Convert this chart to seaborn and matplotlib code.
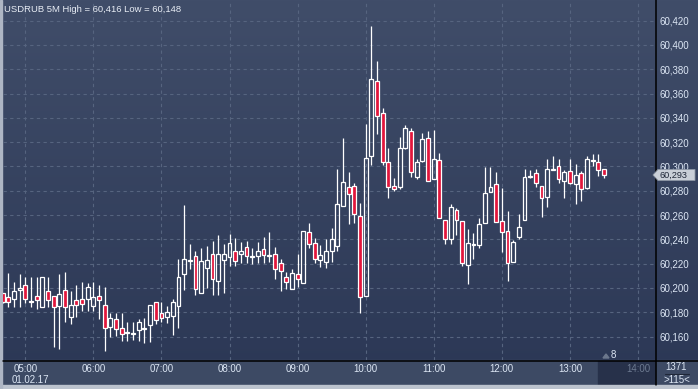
import numpy as np
import pandas as pd
import seaborn as sns
import matplotlib.pyplot as plt
from matplotlib.colors import LinearSegmentedColormap
from matplotlib.patches import Rectangle, Polygon
from matplotlib.lines import Line2D

# USDRUB, 5 minute candles, 01.02.17 04:40 .. 13:30
opens = [
    60.1956, 60.1928, 60.1906, 60.1980, 60.2021, 60.1895, 60.1930, 60.1845, 60.1971, 60.1930,
    60.1851, 60.1980, 60.1757, 60.1897, 60.1906, 60.1906, 60.1853, 60.1930, 60.1856, 60.1675,
    60.1741, 60.1667, 60.1626, 60.1623, 60.1650, 60.1659, 60.1697, 60.1881, 60.1790, 60.1757,
    60.1771, 60.1853, 60.2111, 60.2221, 60.2260, 60.1955, 60.2161, 60.2276, 60.2059, 60.2227,
    60.2251, 60.2301, 60.2279, 60.2339, 60.2251, 60.2265, 60.2317, 60.2260, 60.2276, 60.2202,
    60.2087, 60.1993, 60.2111, 60.2043, 60.2457, 60.2367, 60.2227, 60.2210, 60.2301, 60.2342,
    60.2678, 60.2829, 60.2837, 60.2590, 60.1937, 60.3089, 60.3701, 60.3438, 60.3034, 60.2837,
    60.2829, 60.3152, 60.3289, 60.2916, 60.3048, 60.3235, 60.2894, 60.3051, 60.2557, 60.2406,
    60.2639, 60.2549, 60.2187, 60.2352, 60.2352, 60.2533, 60.2788, 60.2854, 60.2550, 60.2467,
    60.2212, 60.2418, 60.2558, 60.2917, 60.2945, 60.2838, 60.2747, 60.2969, 60.3002, 60.2879,
    60.2961, 60.2854, 60.2945, 60.2821, 60.3043, 60.3035, 60.2978,
]
highs = [
    60.1960, 60.2120, 60.2048, 60.2111, 60.2092, 60.2087, 60.2087, 60.2087, 60.2087, 60.1930,
    60.2111, 60.2131, 60.1971, 60.2021, 60.2048, 60.2037, 60.2048, 60.2021, 60.2004, 60.1796,
    60.1790, 60.1796, 60.1716, 60.1716, 60.1741, 60.1752, 60.1856, 60.1881, 60.1881, 60.1851,
    60.1908, 60.2235, 60.2682, 60.2358, 60.2303, 60.2325, 60.2345, 60.2386, 60.2435, 60.2361,
    60.2443, 60.2408, 60.2380, 60.2388, 60.2331, 60.2380, 60.2416, 60.2457, 60.2339, 60.2235,
    60.2133, 60.2153, 60.2276, 60.2465, 60.2531, 60.2408, 60.2350, 60.2400, 60.2490, 60.2979,
    60.3235, 60.2952, 60.2861, 60.2700, 60.3350, 60.4160, 60.3868, 60.3479, 60.3152, 60.2903,
    60.3246, 60.3342, 60.3314, 60.3059, 60.3276, 60.3292, 60.3300, 60.3108, 60.2557, 60.2694,
    60.2656, 60.2549, 60.2486, 60.2451, 60.2574, 60.2994, 60.2994, 60.2953, 60.2821, 60.2635,
    60.2396, 60.2610, 60.2978, 60.2972, 60.2978, 60.2838, 60.3060, 60.3087, 60.3060, 60.2969,
    60.3060, 60.3018, 60.2961, 60.3085, 60.3101, 60.3101, 60.2978,
]
lows = [
    60.1875, 60.1845, 60.1845, 60.1845, 60.1873, 60.1845, 60.1829, 60.1845, 60.1840, 60.1516,
    60.1495, 60.1722, 60.1703, 60.1763, 60.1812, 60.1812, 60.1812, 60.1746, 60.1480, 60.1598,
    60.1604, 60.1565, 60.1565, 60.1571, 60.1563, 60.1543, 60.1557, 60.1703, 60.1719, 60.1714,
    60.1612, 60.1672, 60.1985, 60.2155, 60.1941, 60.1955, 60.1996, 60.1941, 60.1941, 60.1955,
    60.2180, 60.2183, 60.2202, 60.2202, 60.2196, 60.2202, 60.2202, 60.2216, 60.2076, 60.1977,
    60.1988, 60.1988, 60.2004, 60.2043, 60.2325, 60.2202, 60.2169, 60.2161, 60.2210, 60.2306,
    60.2678, 60.2524, 60.2538, 60.1792, 60.1937, 60.3012, 60.3267, 60.3012, 60.2738, 60.2798,
    60.2812, 60.3147, 60.2911, 60.2894, 60.3037, 60.2878, 60.2894, 60.2573, 60.2365, 60.2359,
    60.2439, 60.2184, 60.2030, 60.2237, 60.2327, 60.2533, 60.2788, 60.2541, 60.2292, 60.2061,
    60.2212, 60.2404, 60.2558, 60.2909, 60.2829, 60.2588, 60.2665, 60.2969, 60.2862, 60.2744,
    60.2854, 60.2695, 60.2712, 60.2813, 60.3000, 60.2925, 60.2901,
]
closes = [
    60.1881, 60.1881, 60.1974, 60.1996, 60.1906, 60.1881, 60.1897, 60.2087, 60.1897, 60.1840,
    60.1947, 60.1840, 60.1856, 60.1856, 60.1865, 60.2004, 60.1922, 60.1897, 60.1667, 60.1749,
    60.1661, 60.1618, 60.1634, 60.1629, 60.1716, 60.1667, 60.1856, 60.1738, 60.1752, 60.1799,
    60.1881, 60.2087, 60.2235, 60.2229, 60.1993, 60.2218, 60.2229, 60.2070, 60.2276, 60.2276,
    60.2367, 60.2218, 60.2301, 60.2260, 60.2260, 60.2301, 60.2268, 60.2268, 60.2153, 60.2136,
    60.2046, 60.2120, 60.2076, 60.2465, 60.2361, 60.2235, 60.2268, 60.2301, 60.2400, 60.2690,
    60.2870, 60.2776, 60.2606, 60.1923, 60.3067, 60.3717, 60.3418, 60.3040, 60.2829, 60.2812,
    60.3150, 60.3317, 60.2952, 60.3034, 60.3226, 60.2878, 60.3059, 60.2579, 60.2401, 60.2664,
    60.2557, 60.2203, 60.2368, 60.2360, 60.2525, 60.2780, 60.2829, 60.2541, 60.2459, 60.2204,
    60.2377, 60.2500, 60.2912, 60.2925, 60.2862, 60.2739, 60.2978, 60.2978, 60.2895, 60.2953,
    60.2862, 60.2928, 60.2813, 60.3060, 60.3052, 60.2969, 60.2930,
]

hour_labels = ['05:00', '06:00', '07:00', '08:00', '09:00',
               '10:00', '11:00', '12:00', '13:00', '14:00']
price_ticks = [60.16, 60.18, 60.20, 60.22, 60.24, 60.26, 60.28,
               60.30, 60.32, 60.34, 60.36, 60.38, 60.40, 60.42]
last_price = 60.293
title = 'USDRUB 5M High = 60,416 Low = 60,148'

W, H = 698, 389
BG_TOP = '#404d69'
BG_BOTTOM = '#2b3755'
RED = '#e2163c'
TEXT = '#dce6f4'
GRID = '#56647f'


def fx(px):
    return px / W


def fy(py):
    return 1 - py / H


df = pd.DataFrame({'open': opens, 'high': highs, 'low': lows, 'close': closes})
df['time'] = pd.date_range('2017-02-01 04:40', periods=len(df), freq='5min')
df['slot'] = (df['time'] - pd.Timestamp('2017-02-01 05:00')) / pd.Timedelta('5min')
df['up'] = df['close'] >= df['open']
df['top'] = df[['open', 'close']].max(axis=1)
df['bot'] = df[['open', 'close']].min(axis=1)

sns.set_theme(style='dark')
plt.rcParams['font.family'] = ['Liberation Sans', 'DejaVu Sans']

fig = plt.figure(figsize=(W / 100, H / 100), dpi=100)

# gradient background
bg = fig.add_axes([0, 0, 1, 1], zorder=0)
cmap = LinearSegmentedColormap.from_list('bg', [BG_TOP, BG_BOTTOM])
bg.imshow(np.linspace(0, 1, 256).reshape(-1, 1), cmap=cmap, aspect='auto', extent=(0, 1, 0, 1))
bg.set_axis_off()

# bottom time strip and frame
fig.patches.append(Rectangle((0, fy(385)), 1, (385 - 360) / H, transform=fig.transFigure,
                             color='#3d4a64', zorder=1))
fig.patches.append(Rectangle((fx(598), fy(385)), fx(655 - 598), (385 - 361) / H,
                             transform=fig.transFigure, color='#27314a', zorder=1))
fig.patches.append(Rectangle((0, 0), 1, fy(385), transform=fig.transFigure,
                             color='#bcc3ce', zorder=1))
fig.patches.append(Rectangle((0, 0), fx(2), 1, transform=fig.transFigure,
                             color='#aeb6c4', zorder=1))

ax = fig.add_axes([fx(3), fy(360), fx(652), 360 / H], zorder=2)
ax.set_facecolor('none')

# wicks
ax.vlines(df['slot'], df['top'], df['high'], color='white', lw=0.9, zorder=3)
ax.vlines(df['slot'], df['low'], df['bot'], color='white', lw=0.9, zorder=3)
# bodies
heights = (df['top'] - df['bot']).clip(lower=0.0007)
fills = np.where(df['up'], 'none', RED)
ax.bar(df['slot'], heights, bottom=df['bot'], width=0.68, color=fills,
       edgecolor='white', linewidth=0.9, zorder=4)

ax.set_xlim(-3.93, 111.0)
ax.set_ylim(60.1407, 60.4370)

ax.set_xticks(np.arange(len(hour_labels)) * 12)
ax.set_xticklabels(hour_labels)
ax.set_yticks(price_ticks)
ax.set_yticklabels([f'{v:.3f}'.replace('.', ',') for v in price_ticks])
ax.yaxis.tick_right()
ax.tick_params(axis='x', length=0, pad=3, labelsize=7, labelcolor=TEXT)
ax.tick_params(axis='y', length=0, pad=3, labelsize=7, labelcolor=TEXT)
ax.get_xticklabels()[-1].set_color('#6d7a91')

ax.grid(True, color=GRID, linestyle=(0, (3, 3)), linewidth=0.8)
ax.set_axisbelow(True)
for s in ax.spines.values():
    s.set_visible(False)

# panel separators
fig.add_artist(Line2D([fx(3), 1], [fy(360.5), fy(360.5)], color='black', lw=1.1, zorder=5))
fig.add_artist(Line2D([fx(655.5), fx(655.5)], [fy(385), 1], color='black', lw=1.1, zorder=5))

fig.text(fx(4), fy(9), title, ha='left', va='center', fontsize=6.8, color='#e8edf5', zorder=6)
fig.text(fx(12), fy(380), '01.02.17', ha='left', va='center', fontsize=7, color=TEXT, zorder=6)

# current price marker
yp = ax.transData.transform((0, last_price))[1] / fig.bbox.height
h = 5.5 / H
fig.patches.append(Polygon([(fx(653), yp), (fx(658), yp + h), (fx(695), yp + h),
                            (fx(695), yp - h), (fx(658), yp - h)], closed=True,
                           transform=fig.transFigure, facecolor='#c9cfd8',
                           edgecolor='#8d96a5', lw=0.6, zorder=6))
fig.text(fx(660), yp - 0.5 / H, f'{last_price:.3f}'.replace('.', ','), ha='left', va='center',
         fontsize=6.6, color='#1e2637', zorder=7)

# misc counters
fig.patches.append(Polygon([(fx(603), fy(358)), (fx(606), fy(354)), (fx(609), fy(358))],
                           closed=True, transform=fig.transFigure, color='#6b778c', zorder=6))
fig.text(fx(613), fy(355.5), '8', ha='center', va='center', fontsize=7, color=TEXT, zorder=7)
fig.text(fx(676), fy(367.5), '1371', ha='center', va='center', fontsize=7, color=TEXT, zorder=7)
fig.add_artist(Line2D([fx(665), fx(689)], [fy(373.5), fy(373.5)], color='#1f2738', lw=0.8, zorder=7))
fig.text(fx(677), fy(380), '>115<', ha='center', va='center', fontsize=7, color=TEXT, zorder=7)

fig.savefig('out.png', dpi=100)
